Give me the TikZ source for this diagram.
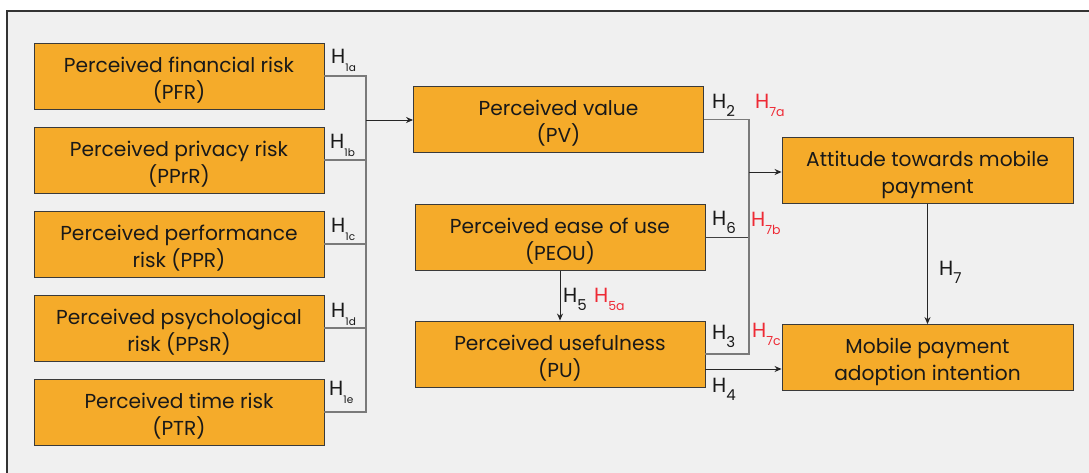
\documentclass[tikz,border=0pt]{standalone}
\usepackage{fontspec}
\setmainfont{Poppins}
\usetikzlibrary{arrows.meta}
\definecolor{boxfill}{HTML}{F5AB2A}
\definecolor{boxline}{HTML}{3A3A3A}
\definecolor{panel}{HTML}{F0F0F0}
\definecolor{busgray}{HTML}{7A7A7A}
\definecolor{hred}{HTML}{EE2A35}
% hypothesis subscript: size, then text
\newcommand{\hsub}[2]{\raisebox{-8pt}{\fontsize{#1}{#1}\selectfont #2}}
\tikzset{
  construct/.style={draw=boxline, line width=0.9pt, fill=boxfill, minimum width=290pt,
    minimum height=66pt, inner sep=0pt, align=center, text=black!90,
    font=\fontsize{20.2}{27}\selectfont, text height=52pt, text depth=6pt},
  bus/.style={draw=busgray, line width=1.3pt},
  link/.style={draw=black!85, line width=1pt, -{Stealth[length=7pt,width=6pt]}},
  hyp/.style={anchor=base west, inner sep=0pt, text=black!90, font=\fontsize{20.5}{22}\selectfont},
  hypred/.style={hyp, text=hred},
}
\begin{document}
\begin{tikzpicture}[x=1pt, y=-1pt]
  \useasboundingbox (0,0) rectangle (1089,472);
  \clip (0,0) rectangle (1089,472);
  \fill[white] (0,0) rectangle (1089,472);
  \filldraw[fill=panel, draw=black!80, line width=1.3pt] (7,11) rectangle (1100,490);

  % risk constructs
  \node[construct] (pfr)  at (179,76)  {Perceived financial risk\\(PFR)};
  \node[construct] (pprr) at (179,160) {Perceived privacy risk\\(PPrR)};
  \node[construct] (ppr)  at (179,244) {Perceived performance\\risk (PPR)};
  \node[construct] (ppsr) at (179,328) {Perceived psychological\\risk (PPsR)};
  \node[construct] (ptr)  at (179,412) {Perceived time risk\\(PTR)};

  % middle constructs
  \node[construct] (pv)   at (558.5,119.5) {Perceived value\\(PV)};
  \node[construct] (peou) at (560,237.5)   {Perceived ease of use\\(PEOU)};
  \node[construct] (pu)   at (560,354)     {Perceived usefulness\\(PU)};

  % outcome constructs
  \node[construct, minimum width=291pt] (att) at (927.5,170.5) {Attitude towards mobile\\payment};
  \node[construct, minimum width=291pt] (mpi) at (927.5,357.5) {Mobile payment\\adoption intention};

  % junction points of the two buses
  \coordinate (jl) at (366,120);
  \coordinate (jr) at (749,172);

  % left bus: risks -> perceived value
  \draw[bus] (pfr.east) -| (jl);
  \draw[bus] (pprr.east) -| (jl);
  \draw[bus] (ppr.east) -| (jl);
  \draw[bus] (ppsr.east) -| (jl);
  \draw[bus] (ptr.east) -| (jl);
  \draw[link] (jl) -- (jl -| pv.west);

  % right bus: PV, PEOU, PU -> attitude
  \draw[bus] (pv.east) -| (jr);
  \draw[bus, draw=black!75] (peou.east) -| (jr);
  \draw[bus] (pu.east) -| (jr);
  \draw[link] (jr) -- (jr -| att.west);

  % direct paths
  \draw[link] (peou.south) -- (pu.north);
  \draw[link] ([yshift=-15pt]pu.east) -- ([yshift=-15pt]pu.east -| mpi.west);
  \draw[link] (att.south) -- (mpi.north);

  % hypothesis labels
  \node[hyp] (h1a) at (331,63)  {H\hsub{10.5}{1a}};
  \node[hyp] (h1b) at (330,148) {H\hsub{10.5}{1b}};
  \node[hyp] (h1c) at (331,232) {H\hsub{10.5}{1c}};
  \node[hyp] (h1d) at (331,317) {H\hsub{10.5}{1d}};
  \node[hyp] (h1e) at (329,395) {H\hsub{10.5}{1e}};

  \node[hyp] (h2) at (712,108) {H\hsub{15}{2}};
  \node[hypred] (h7a) at (755,108) {H\hsub{12.5}{7a}};
  \node[hyp] (h6) at (712,225) {H\hsub{15}{6}};
  \node[hypred] (h7b) at (751,226) {H\hsub{12.5}{7b}};
  \node[hyp] (h5) at (563,302) {H\hsub{15}{5}};
  \node[hypred] (h5a) at (594,302) {H\hsub{12.5}{5a}};
  \node[hyp] (h3) at (712,339) {H\hsub{15}{3}};
  \node[hypred] (h7c) at (752,337) {H\hsub{12.5}{7c}};
  \node[hyp] (h4) at (712,392) {H\hsub{15}{4}};
  \node[hyp] (h7) at (939,275) {H\hsub{15}{7}};
\end{tikzpicture}
\end{document}
